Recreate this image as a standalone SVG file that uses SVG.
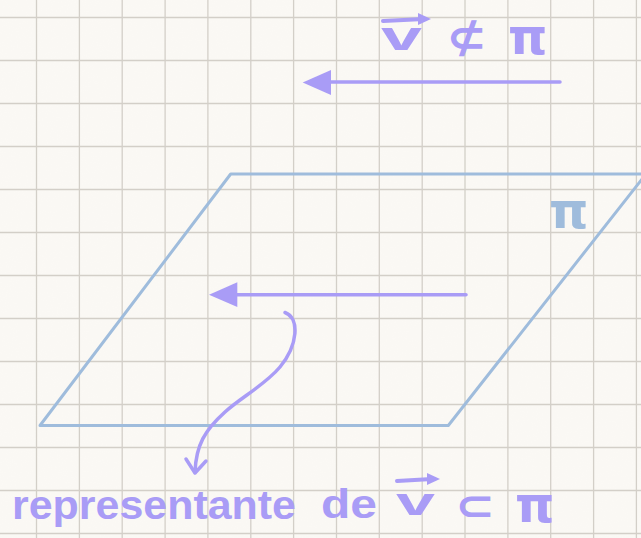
<svg xmlns="http://www.w3.org/2000/svg" width="641" height="538" viewBox="0 0 641 538">
<defs>
<style>
.grid line{stroke:#d3cfc8;stroke-width:1.3}
.plane{fill:none;stroke:#9fbcdc;stroke-width:3;stroke-linejoin:round}
.pen{fill:none;stroke:#a99cf6;stroke-width:3.5;stroke-linecap:round;stroke-linejoin:round}
.head{fill:#a99cf6}
.hand{font-family:"Liberation Sans","DejaVu Sans",sans-serif;font-weight:bold;fill:#a99cf6}
.sym{font-family:"DejaVu Sans",sans-serif;font-weight:bold;fill:#a99cf6}
.blue{fill:#9fbcdc}
</style>
<filter id="paper" x="0" y="0" width="100%" height="100%">
<feTurbulence type="fractalNoise" baseFrequency="0.8" numOctaves="2" seed="3" result="n"/>
<feColorMatrix in="n" type="matrix" values="0 0 0 0 0.6  0 0 0 0 0.58  0 0 0 0 0.54  0 0 0 0.03 0"/>
</filter>
</defs>
<rect width="641" height="538" fill="#fbf9f5"/>
<rect width="641" height="538" filter="url(#paper)"/>
<g class="grid">
<line x1="36.5" y1="0" x2="36.5" y2="538"/>
<line x1="79.4" y1="0" x2="79.4" y2="538"/>
<line x1="122.2" y1="0" x2="122.2" y2="538"/>
<line x1="165.1" y1="0" x2="165.1" y2="538"/>
<line x1="207.9" y1="0" x2="207.9" y2="538"/>
<line x1="250.8" y1="0" x2="250.8" y2="538"/>
<line x1="293.6" y1="0" x2="293.6" y2="538"/>
<line x1="336.5" y1="0" x2="336.5" y2="538"/>
<line x1="379.3" y1="0" x2="379.3" y2="538"/>
<line x1="422.2" y1="0" x2="422.2" y2="538"/>
<line x1="465" y1="0" x2="465" y2="538"/>
<line x1="507.9" y1="0" x2="507.9" y2="538"/>
<line x1="550.7" y1="0" x2="550.7" y2="538"/>
<line x1="593.6" y1="0" x2="593.6" y2="538"/>
<line x1="636.4" y1="0" x2="636.4" y2="538"/>
<line x1="0" y1="17.5" x2="641" y2="17.5"/>
<line x1="0" y1="60.5" x2="641" y2="60.5"/>
<line x1="0" y1="103.5" x2="641" y2="103.5"/>
<line x1="0" y1="146.5" x2="641" y2="146.5"/>
<line x1="0" y1="189.5" x2="641" y2="189.5"/>
<line x1="0" y1="232.5" x2="641" y2="232.5"/>
<line x1="0" y1="275.5" x2="641" y2="275.5"/>
<line x1="0" y1="318.5" x2="641" y2="318.5"/>
<line x1="0" y1="361.5" x2="641" y2="361.5"/>
<line x1="0" y1="404.5" x2="641" y2="404.5"/>
<line x1="0" y1="447.5" x2="641" y2="447.5"/>
<line x1="0" y1="490.5" x2="641" y2="490.5"/>
<line x1="0" y1="533.5" x2="641" y2="533.5"/>
</g>
<g id="plane">
<polygon class="plane" points="40,425.5 230.7,174 646,174 448.3,425.5"/>
<text class="sym blue" x="549" y="228" font-size="50">π</text>
</g>
<g id="title">
<text class="hand" x="381" y="50" font-size="40" textLength="41" lengthAdjust="spacingAndGlyphs">v</text>
<path class="pen" d="M383,21 L424,19" style="stroke-width:4"/>
<path class="head" d="M418,13 L431,19 L418,25 Z"/>
<text class="sym" x="446" y="52" font-size="44" textLength="41" lengthAdjust="spacingAndGlyphs">⊄</text>
<text class="sym" x="508" y="54" font-size="50">π</text>
</g>
<g id="label">
<text class="hand" x="12" y="519" font-size="40" textLength="284" lengthAdjust="spacingAndGlyphs">representante</text>
<text class="hand" x="321" y="518" font-size="40" textLength="56" lengthAdjust="spacingAndGlyphs">de</text>
<text class="hand" x="396" y="515" font-size="38" textLength="39" lengthAdjust="spacingAndGlyphs">v</text>
<path class="pen" d="M397,481 L432,479" style="stroke-width:4"/>
<path class="head" d="M427,473 L440,479 L427,485 Z"/>
<text class="sym" x="455" y="520" font-size="42" textLength="40" lengthAdjust="spacingAndGlyphs">⊂</text>
<text class="sym" x="515" y="522" font-size="50">π</text>
</g>
<g id="connectors">
<path class="pen" d="M560,82 L330,82"/>
<path class="head" d="M302.7,82.5 L331,70 L331,95 Z"/>
<path class="pen" d="M466,294.7 L236,294.7"/>
<path class="head" d="M209,294.7 L237.3,282.3 L237.3,307 Z"/>
<path class="pen" d="M285,312.5 C300,318 298,345 280,367 C265,385 240,398 225,412 C205,430 196,445 195,472"/>
<path class="pen" d="M186,459 L195,473 L206,461"/>
</g>
</svg>
